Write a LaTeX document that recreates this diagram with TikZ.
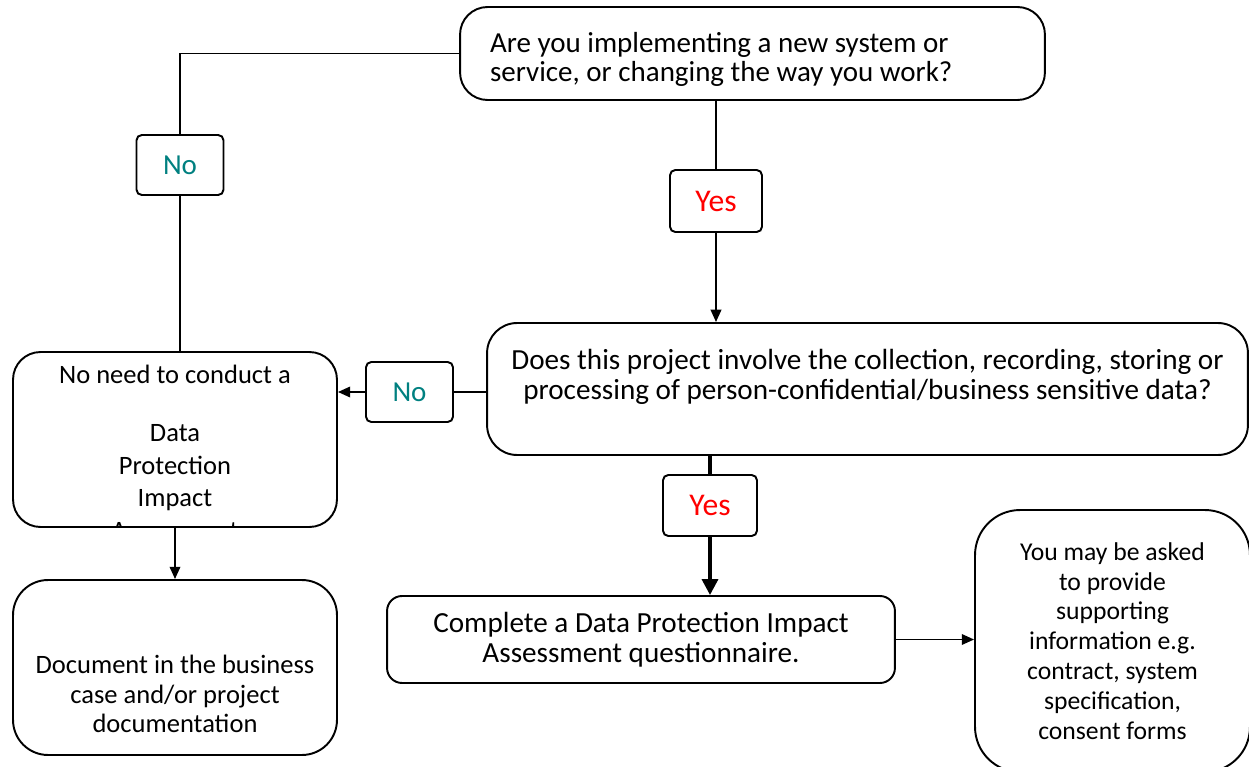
\documentclass[tikz,border=0pt]{standalone}
\usepackage{fontspec}
\setmainfont{Carlito}
\usetikzlibrary{arrows.meta, positioning}
\definecolor{noteal}{RGB}{0,128,128}
\tikzstyle{flowbox}=[draw, line width=1.1pt, rounded corners=0.55cm, align=center, font=\fontsize{16.6}{17}\selectfont]
\tikzstyle{answer}=[draw, line width=1.1pt, rounded corners=3pt, minimum width=1.74cm, minimum height=1.2cm, font=\fontsize{16.5}{17}\selectfont]
\tikzstyle{flow}=[line width=1.1pt, >={Triangle[length=7pt,width=6pt]}]

\begin{document}
\begin{tikzpicture}[x=0.02cm, y=-0.02cm, flow]
  \useasboundingbox (0,0) rectangle (1249,767);
  \node[flowbox, align=flush left, text width=10.5cm, minimum width=11.7cm, minimum height=1.86cm, font=\fontsize{16.5}{16.4}\selectfont] (ask) at (752.5,53.5) {\mbox{}\\[2pt]Are you implementing a new system or\\service, or changing the way you work?};
  \node[flowbox, rounded corners=0.6cm, minimum width=15.22cm, minimum height=2.64cm] (involve) at (867.5,389) {Does this project involve the collection, recording, storing or\\processing of person-confidential/business sensitive data?\\\mbox{}};
  \node[flowbox, minimum width=6.48cm, minimum height=3.5cm, path picture={
      \node[font=\fontsize{15.1}{18.7}\selectfont, align=center, anchor=north] (noneedtext) at ([yshift=-0.13cm]path picture bounding box.north) {No need to conduct a\\[14pt]Data\\Protection\\Impact\\Assessment};}] (noneed) at (175,439.5) {};
  \node[flowbox, rounded corners=0.7cm, minimum width=6.48cm, minimum height=3.5cm, font=\fontsize{15.1}{16.7}\selectfont] (document) at (175,667.5) {\mbox{}\\[24pt]Document in the business\\case and/or project\\documentation};
  \node[flowbox, rounded corners=0.3cm, minimum width=10.16cm, minimum height=1.74cm] (complete) at (641,639.5) {Complete a Data Protection Impact\\Assessment questionnaire.};
  \node[flowbox, rounded corners=0.9cm, minimum width=5.5cm, minimum height=5.24cm, font=\fontsize{14.6}{17}\selectfont] (support) at (1112.5,641) {You may be asked\\to provide\\supporting\\information e.g.\\contract, system\\specification,\\consent forms};
  \node[answer, text=noteal] (no1) at (180,165) {No};
  \node[answer, text=red, minimum width=1.84cm, minimum height=1.24cm, font=\fontsize{18}{18}\selectfont] (yes1) at (716,201) {Yes};
  \node[answer, text=noteal] (no2) at (409.5,392) {No};
  \node[answer, text=red, minimum width=1.88cm, minimum height=1.22cm, font=\fontsize{18}{18}\selectfont] (yes2) at (710,505.5) {Yes};
  \draw (ask.west) -| (no1.north);
  \draw (no1.south) -- (no1.south |- noneed.north);
  \draw (yes1.north |- ask.south) -- (yes1.north);
  \draw[->] (yes1.south) -- (yes1.south |- involve.north);
  \draw (involve.west |- no2.east) -- (no2.east);
  \draw[->] (no2.west) -- (no2.west -| noneed.east);
  \draw[line width=2pt] (yes2.north |- involve.south) -- (yes2.north);
  \draw[->, line width=2pt, >={Triangle[length=9pt,width=9pt]}] (yes2.south) -- (yes2.south |- complete.north);
  \draw[->] (noneed.south) -- (document.north);
  \draw[->] (complete.east) -- (complete.east -| support.west);
\end{tikzpicture}
\end{document}
